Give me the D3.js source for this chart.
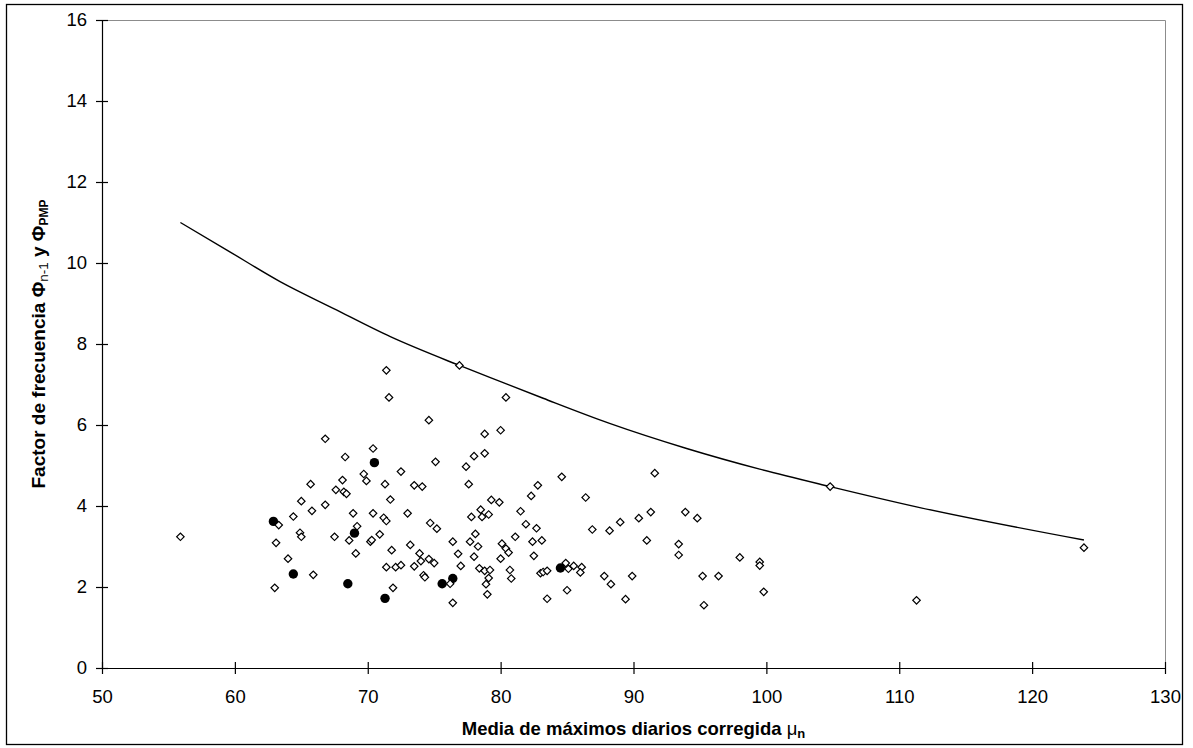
<!DOCTYPE html>
<html>
<head>
<meta charset="utf-8">
<script src="https://cdnjs.cloudflare.com/ajax/libs/d3/7.8.5/d3.min.js"></script>
<style>
    body { margin: 0; background: #fff; }
    #render-zone { width: 1193px; height: 748px; }
</style>
</head>
<body>
<div id="render-zone"></div>
<script>
/* chart data */
var xTicks = [50, 60, 70, 80, 90, 100, 110, 120, 130],
    yTicks = [0, 2, 4, 6, 8, 10, 12, 14, 16],

    /* envelope curve (Phi PMP) */
    curveX = [55.9, 59.4, 63.4, 67.4, 71.7, 76.9, 80.0, 83.2, 88.2, 94.0, 99.5, 104.8, 111.3, 123.9],
    curveY = [11.0, 10.32, 9.54, 8.88, 8.18, 7.47, 7.07, 6.66, 6.04, 5.42, 4.91, 4.48, 3.98, 3.16],

    /* open diamonds (Phi n-1 per station) */
    stationX = [55.9, 71.4, 76.9, 71.6, 80.4, 74.6, 78.8, 80.0, 66.8, 70.4, 68.3, 75.1, 78.0, 78.8, 77.4,
                72.5, 69.7, 69.9, 65.7, 68.1, 67.6, 68.2, 68.4, 71.3, 73.5, 74.1, 77.6, 82.8, 82.3, 65.0,
                66.8, 71.7, 79.3, 79.9, 78.5, 64.4, 65.8, 68.9, 70.4, 73.0, 71.2, 71.4, 79.1, 78.6, 77.8,
                81.5, 63.3, 69.2, 64.9, 65.0, 67.5, 68.6, 70.9, 70.2, 70.3, 74.7, 75.2, 81.9, 82.7, 78.1,
                81.1, 63.1, 76.4, 77.7, 82.4, 83.1, 78.3, 80.1, 80.4, 80.6, 69.1, 71.8, 73.2, 73.9, 74.0,
                74.6, 75.0, 76.8, 78.0, 82.5, 80.0, 64.0, 71.4, 72.1, 72.5, 73.5, 74.2, 74.3, 77.0, 78.4,
                78.8, 79.2, 80.7, 80.8, 79.1, 78.9, 79.0, 83.0, 83.2, 83.5, 65.9, 76.2, 63.0, 71.9, 76.4,
                83.5, 84.6, 91.6, 86.4, 86.9, 88.2, 89.0, 90.4, 91.3, 93.9, 94.8, 91.0, 93.4, 93.4, 98.0,
                99.5, 99.5, 84.9, 85.1, 85.5, 86.1, 86.0, 87.8, 88.3, 89.9, 95.2, 96.4, 85.0, 89.4, 95.3,
                99.8, 104.8, 123.9, 111.3],
    stationY = [3.24, 7.35, 7.47, 6.68, 6.68, 6.12, 5.78, 5.87, 5.66, 5.42, 5.21, 5.09, 5.23, 5.30, 4.97,
                4.85, 4.79, 4.62, 4.54, 4.64, 4.40, 4.35, 4.30, 4.54, 4.51, 4.48, 4.54, 4.51, 4.25, 4.12,
                4.03, 4.16, 4.15, 4.09, 3.91, 3.74, 3.88, 3.82, 3.82, 3.82, 3.71, 3.63, 3.79, 3.73, 3.73,
                3.87, 3.53, 3.50, 3.34, 3.24, 3.24, 3.15, 3.30, 3.12, 3.16, 3.58, 3.44, 3.55, 3.45, 3.31,
                3.24, 3.09, 3.12, 3.12, 3.12, 3.15, 3.00, 3.07, 2.95, 2.85, 2.83, 2.91, 3.04, 2.83, 2.64,
                2.69, 2.59, 2.82, 2.75, 2.77, 2.70, 2.70, 2.49, 2.49, 2.54, 2.51, 2.29, 2.24, 2.52, 2.46,
                2.40, 2.42, 2.42, 2.21, 2.22, 2.07, 1.82, 2.34, 2.37, 2.40, 2.30, 2.08, 1.98, 1.98, 1.61,
                1.71, 4.72, 4.81, 4.21, 3.42, 3.39, 3.60, 3.70, 3.85, 3.85, 3.70, 3.15, 3.06, 2.79, 2.73,
                2.62, 2.53, 2.59, 2.45, 2.52, 2.49, 2.36, 2.27, 2.07, 2.27, 2.27, 2.27, 1.92, 1.70, 1.55,
                1.88, 4.48, 2.97, 1.67],

    /* filled circles */
    markedX = [62.9, 64.4, 68.5, 69.0, 70.5, 71.3, 75.6, 76.4, 84.5],
    markedY = [3.62, 2.32, 2.08, 3.33, 5.07, 1.72, 2.08, 2.21, 2.47];

(function( w ) {

"use strict";

var _d = {
        width : 1193,
        height : 748,
        plot : { left : 102, right : 1165, top : 20, bottom : 668 },
        font : "'Liberation Sans', Arial, Helvetica, sans-serif",
        tickSize : 6
    },

    /* _zip
     * pairs two value arrays into point objects
     */
    _zip = function( xs, ys ) {
        return xs.map(function( x, i ){ return { x : x, y : ys[i] }; });
    },

    _render = function( ) {
        var p = _d.plot,
            svg = d3.select("#render-zone").append("svg")
                .attr("width", _d.width)
                .attr("height", _d.height)
                .style("font-family", _d.font),
            x = d3.scaleLinear().domain([50, 130]).range([p.left, p.right]),
            y = d3.scaleLinear().domain([0, 16]).range([p.bottom, p.top]),
            xAxis, yAxis, line, xt, yt;

        /* outer chart border */
        svg.append("rect")
            .attr("x", 6.5).attr("y", 4.5)
            .attr("width", 1176).attr("height", 740)
            .attr("fill", "none")
            .attr("stroke", "#000")
            .attr("stroke-width", 1.3);

        /* plot area border (grey top + right) */
        svg.append("path")
            .attr("d", "M" + p.left + "," + (p.top + 0.5) + "H" + (p.right + 0.5) + "V" + p.bottom)
            .attr("fill", "none")
            .attr("stroke", "#8c8c8c")
            .attr("stroke-width", 1);

        /* axes, ticks cross the axis line */
        xAxis = svg.append("g")
            .attr("transform", "translate(0," + p.bottom + ")")
            .call(d3.axisBottom(x).tickValues(xTicks).tickSizeInner(_d.tickSize)
                .tickSizeOuter(0).tickPadding(16));
        xAxis.selectAll(".tick line").attr("y1", -_d.tickSize);

        yAxis = svg.append("g")
            .attr("transform", "translate(" + p.left + ",0)")
            .call(d3.axisLeft(y).tickValues(yTicks).tickSizeInner(_d.tickSize)
                .tickSizeOuter(0).tickPadding(9));
        yAxis.selectAll(".tick line").attr("x1", _d.tickSize);

        svg.selectAll(".domain, .tick line").attr("stroke", "#000").attr("stroke-width", 1.2);
        svg.selectAll(".tick text")
            .attr("fill", "#000")
            .style("font-family", _d.font)
            .style("font-size", "18.5px");

        /* envelope curve */
        line = d3.line()
            .x(function( d ){ return x(d.x); })
            .y(function( d ){ return y(d.y); })
            .curve(d3.curveMonotoneX);

        svg.append("path")
            .datum(_zip(curveX, curveY))
            .attr("d", line)
            .attr("fill", "none")
            .attr("stroke", "#000")
            .attr("stroke-width", 1.4);

        /* filled circles */
        svg.append("g").selectAll("circle")
            .data(_zip(markedX, markedY))
            .enter().append("circle")
            .attr("cx", function( d ){ return x(d.x); })
            .attr("cy", function( d ){ return y(d.y); })
            .attr("r", 4.7)
            .attr("fill", "#000");

        /* open diamonds */
        svg.append("g").selectAll("path")
            .data(_zip(stationX, stationY))
            .enter().append("path")
            .attr("d", d3.symbol().type(d3.symbolSquare).size(28))
            .attr("transform", function( d ){
                return "translate(" + x(d.x) + "," + y(d.y) + ") rotate(45)";
            })
            .attr("fill", "#fff")
            .attr("stroke", "#000")
            .attr("stroke-width", 1.2);

        /* x title */
        xt = svg.append("text")
            .attr("x", (p.left + p.right) / 2)
            .attr("y", 735)
            .attr("text-anchor", "middle")
            .style("font-size", "18.5px")
            .style("font-weight", "bold");
        xt.append("tspan").text("Media de máximos diarios corregida ");
        xt.append("tspan").style("font-weight", "normal").text("μ");
        xt.append("tspan").attr("dy", 3).style("font-size", "13px").text("n");

        /* y title */
        yt = svg.append("text")
            .attr("transform", "translate(45," + ((p.top + p.bottom) / 2) + ") rotate(-90)")
            .attr("text-anchor", "middle")
            .style("font-size", "19px")
            .style("font-weight", "bold");
        yt.append("tspan").text("Factor de frecuencia Φ");
        yt.append("tspan").attr("dy", 3).style("font-size", "13.5px").style("font-weight", "normal").text("n-1");
        yt.append("tspan").attr("dy", -3).text(" y Φ");
        yt.append("tspan").attr("dy", 3).style("font-size", "12px").text("PMP");
    };

_render( );

})( window );
</script>
</body>
</html>
